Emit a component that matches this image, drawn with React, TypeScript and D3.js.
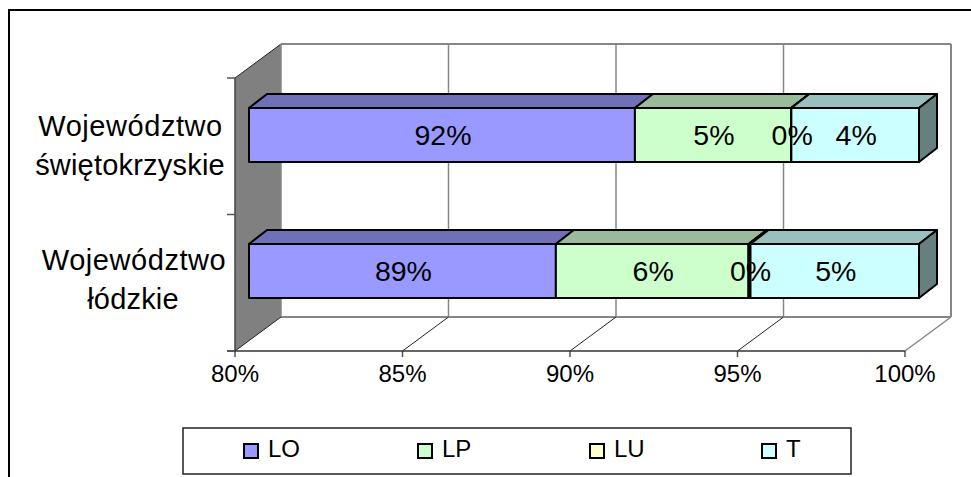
import React from 'react';
import { scaleLinear, scaleBand, stack, line } from 'd3';

const categories = ['Województwo świętokrzyskie', 'Województwo łódzkie'];
const categoryLines = [['Województwo', 'świętokrzyskie'], ['Województwo', 'łódzkie']];
const seriesNames = ['LO', 'LP', 'LU', 'T'];
const lo = [91.52, 89.16];
const lp = [4.66, 5.75];
const lu = [0.01, 0.06];
const t = [3.81, 5.03];
const xTicks = [80, 85, 90, 95, 100];

const fronts = ['#9999ff', '#ccffcc', '#ffffcc', '#ccffff'];
const tops = ['#7070b8', '#99bb99', '#bbbb99', '#99bfbf'];
const sideColor = '#668080';

const rows = categories.map((c, i) => ({ c, LO: lo[i], LP: lp[i], LU: lu[i], T: t[i] }));
const stacked = stack<any>().keys(seriesNames)(rows);

// plot geometry
const floorLeft = 235;
const floorRight = 905;
const floorY = 351;
const wallTop = 78;
const depthX = 46;
const depthY = 34;
const barShift = 14;
const barDepthX = 18;
const barDepthY = 14;
const barH = 54;

const x = scaleLinear().domain([80, 100]).range([floorLeft, floorRight]).clamp(true);
const bandY = scaleBand().domain(categories).range([wallTop, floorY]);
const path = line();

const pt = (a: number, b: number): [number, number] => [a, b];
const barTop = (c: string) => Math.floor(bandY(c)! + bandY.bandwidth() / 2 - 38);

const labelX = [[130.5, 130], [134, 133]];
const labelY = [[136, 175], [270, 309]];
const labelSpacing = [[0.55, 0.2], [0.55, 0.2]];
const legendX = [244, 418, 590, 762];

export default function App() {
  const grey = '#868686';
  return (
    <svg
      width={971}
      height={477}
      style={{ position: 'absolute', left: 0, top: 0, display: 'block' }}
      fontFamily="'Liberation Sans', Arial, sans-serif"
    >
      <rect width={971} height={477} fill="#fff" />
      <path d="M9 477V10H971" fill="none" stroke="#000" strokeWidth={2} />

      {/* side wall */}
      <polygon
        points={[pt(floorLeft, wallTop), pt(floorLeft + depthX, wallTop - depthY), pt(floorLeft + depthX, floorY - depthY), pt(floorLeft, floorY)].join(' ')}
        fill="#808080"
      />
      <path d={path([pt(floorLeft, wallTop), pt(floorLeft + depthX, wallTop - depthY)])!} stroke="#222" fill="none" />
      <path d={`M${floorLeft} ${wallTop}V${floorY}`} stroke="#444" strokeWidth={1.5} />

      {/* back wall */}
      {xTicks.map(d => (
        <line key={d} x1={x(d) + depthX} x2={x(d) + depthX} y1={wallTop - depthY} y2={floorY - depthY} stroke={grey} strokeWidth={d === 100 ? 2 : 1.5} />
      ))}
      <line x1={floorLeft + depthX} x2={floorRight + depthX} y1={wallTop - depthY} y2={wallTop - depthY} stroke={grey} strokeWidth={2} />
      <line x1={floorLeft + depthX} x2={floorRight + depthX} y1={floorY - depthY} y2={floorY - depthY} stroke={grey} strokeWidth={2} />

      {/* floor and axis */}
      {xTicks.map(d => (
        <g key={d}>
          <line x1={x(d)} x2={x(d) + depthX} y1={floorY} y2={floorY - depthY} stroke={d === 100 ? grey : '#222'} strokeWidth={d === 100 ? 1.5 : 1} />
          <line x1={x(d)} x2={x(d)} y1={floorY} y2={floorY + 6} stroke="#555" strokeWidth={1.5} />
          <text x={x(d)} y={382} textAnchor="middle" fontSize={24} fill="#000">{d}%</text>
        </g>
      ))}
      <line x1={floorLeft - 8} x2={floorRight} y1={floorY} y2={floorY} stroke="#333" strokeWidth={1.5} />
      {[wallTop, wallTop + bandY.bandwidth(), floorY].map(v => (
        <line key={v} x1={floorLeft - 8} x2={floorLeft} y1={v} y2={v} stroke="#555" strokeWidth={1.5} />
      ))}

      {/* category labels */}
      {categories.map((c, i) => (
        <text key={c} textAnchor="middle" fontSize={29} fill="#000">
          {categoryLines[i].map((s, j) => (
            <tspan key={s} x={labelX[i][j]} y={labelY[i][j]} letterSpacing={labelSpacing[i][j]}>{s}</tspan>
          ))}
        </text>
      ))}

      {/* stacked bars */}
      {categories.map((c, i) => {
        const yTop = barTop(c);
        const xEnd = x(100) + barShift;
        return (
          <g key={c} stroke="#000" strokeWidth={2} strokeLinejoin="round">
            {stacked.map((s, k) => {
              const x0 = x(s[i][0]) + barShift;
              const x1 = x(s[i][1]) + barShift;
              return (
                <g key={s.key}>
                  <polygon
                    points={[pt(x0, yTop), pt(x0 + barDepthX, yTop - barDepthY), pt(x1 + barDepthX, yTop - barDepthY), pt(x1, yTop)].join(' ')}
                    fill={tops[k]}
                  />
                  <rect x={x0} y={yTop} width={x1 - x0} height={barH} fill={fronts[k]} />
                </g>
              );
            })}
            <polygon
              points={[pt(xEnd, yTop), pt(xEnd + barDepthX, yTop - barDepthY), pt(xEnd + barDepthX, yTop + barH - barDepthY), pt(xEnd, yTop + barH)].join(' ')}
              fill={sideColor}
            />
          </g>
        );
      })}

      {/* value labels */}
      {categories.map(c => {
        const i = categories.indexOf(c);
        return stacked.map(s => (
          <text key={c + s.key} x={(x(s[i][0]) + x(s[i][1])) / 2 + barShift + 1} y={barTop(c) + 37} textAnchor="middle" fontSize={28.5} fill="#000">
            {Math.round(s[i][1] - s[i][0])}%
          </text>
        ));
      })}

      {/* legend */}
      <rect x={183} y={428} width={668} height={46} fill="#fff" stroke="#222" strokeWidth={1.5} />
      {seriesNames.map((name, k) => (
        <g key={name}>
          <rect x={legendX[k]} y={444} width={14} height={14} fill={fronts[k]} stroke="#000" strokeWidth={2} />
          <text x={legendX[k] + 24} y={457} fontSize={24} fill="#000">{name}</text>
        </g>
      ))}
    </svg>
  );
}
